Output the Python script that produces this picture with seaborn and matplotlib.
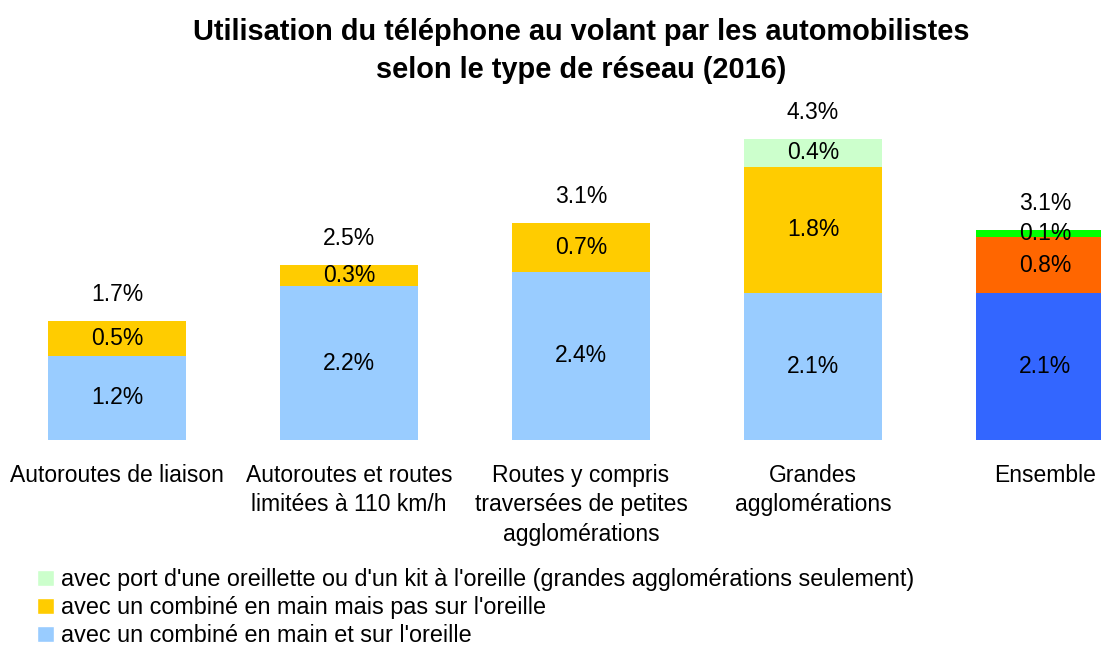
import matplotlib
matplotlib.use("Agg")
import matplotlib.pyplot as plt
import seaborn as sns
import numpy as np
from matplotlib.patches import Patch

categories = ["Autoroutes de liaison", "Autoroutes et routes\nlimitées à 110 km/h",
              "Routes y compris\ntraversées de petites\nagglomérations",
              "Grandes\nagglomérations", "Ensemble"]
combine_oreille = [1.2, 2.2, 2.4, 2.1, 2.1]
combine_main = [0.5, 0.3, 0.7, 1.8, 0.8]
oreillette = [0.0, 0.0, 0.0, 0.4, 0.1]
totals = [1.7, 2.5, 3.1, 4.3, 3.1]
legend_labels = ["avec port d'une oreillette ou d'un kit à l'oreille (grandes agglomérations seulement)",
                 "avec un combiné en main mais pas sur l'oreille",
                 "avec un combiné en main et sur l'oreille"]

c_blue = ["#99CCFF"] * 4 + ["#3366FF"]
c_yellow = ["#FFCC00"] * 4 + ["#FF6600"]
c_green = ["#CCFFCC"] * 4 + ["#00FF00"]

sns.set_theme(style="white")
plt.rcParams["font.family"] = ["Liberation Sans", "DejaVu Sans"]

fig = plt.figure(figsize=(11.01, 6.48), dpi=100)
W, H = 1101, 648
ax = fig.add_axes([0, (H - 440) / H, 1, 340 / H])

lo = np.array(combine_oreille)
mid = lo + np.array(combine_main)
top = mid + np.array(oreillette)

bw = 138 / 232
for vals, cols in [(top, c_green), (mid, c_yellow), (lo, c_blue)]:
    sns.barplot(x=list(range(5)), y=list(vals), hue=list(range(5)), palette=cols,
                legend=False, width=bw, saturation=1, ax=ax, linewidth=0,
                native_scale=True)

ax.set_xlim(-117 / 232, (W - 117) / 232)
ax.set_ylim(0, 340 / 70)

fs = 16.5
for i in range(5):
    ax.text(i, lo[i] / 2, f"{combine_oreille[i]:.1f}%", ha="center", va="center", fontsize=fs, color="#000000")
    ax.text(i, lo[i] + combine_main[i] / 2, f"{combine_main[i]:.1f}%", ha="center", va="center", fontsize=fs, color="#000000")
    if oreillette[i] > 0:
        ax.text(i, mid[i] + oreillette[i] / 2, f"{oreillette[i]:.1f}%", ha="center", va="center", fontsize=fs, color="#000000")
    ax.annotate(f"{totals[i]:.1f}%", (i, top[i]), xytext=(0, 19), textcoords="offset points",
                ha="center", va="center", fontsize=fs, color="#000000")

ax.set_xticks(range(5))
ax.set_xticklabels(categories, fontsize=fs, linespacing=1.38, color="#000000")
ax.tick_params(axis="x", length=0, pad=17)
ax.set_yticks([])
ax.set_xlabel("")
ax.set_ylabel("")
for s in ax.spines.values():
    s.set_visible(False)

fig.text(581 / W, 1 - 51 / H, "Utilisation du téléphone au volant par les automobilistes\nselon le type de réseau (2016)",
         ha="center", va="center", fontsize=20.9, fontweight="bold", linespacing=1.42, color="#000000")

handles = [Patch(facecolor=c_green[0]), Patch(facecolor=c_yellow[0]), Patch(facecolor=c_blue[0])]
fig.legend(handles, legend_labels, loc="upper left", bbox_to_anchor=(37 / W, 1 - 568 / H),
           frameon=False, fontsize=16.8, handlelength=0.72, handleheight=0.72, handletextpad=0.3,
           labelspacing=0.22, borderpad=0, borderaxespad=0, labelcolor="#000000")

fig.savefig("out.png", dpi=100)
